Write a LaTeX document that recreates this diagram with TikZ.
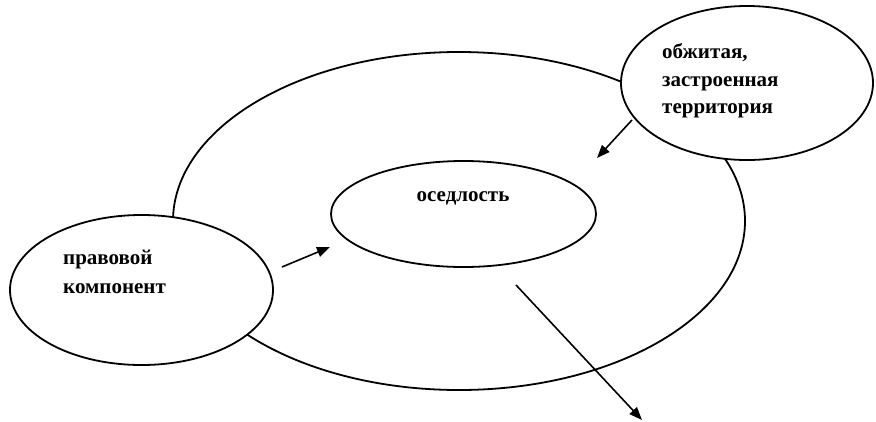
\documentclass[tikz,border=0pt]{standalone}
\usepackage{fontspec}
\setmainfont{Liberation Serif}
\usetikzlibrary{shapes.geometric,arrows.meta}
\tikzset{
  oval/.style={ellipse, draw=black, line width=1.8pt, fill=white, inner sep=0pt},
  lbl/.style={font=\fontsize{21}{29}\selectfont\bfseries, inner sep=0pt, align=left},
  arr/.style={line width=1.6pt, -{Triangle[length=13pt,width=10pt]}}
}
\begin{document}
\begin{tikzpicture}[x=1pt,y=-1pt]
\useasboundingbox (0,0) rectangle (876,421);
\node[oval, minimum width=572pt, minimum height=338pt] (big) at (459,221) {};
\node[oval, minimum width=265pt, minimum height=106pt] (sed) at (463.5,214) {};
\node[oval, minimum width=263pt, minimum height=150pt] (prav) at (141.5,290) {};
\node[oval, minimum width=252pt, minimum height=154pt] (terr) at (747,83) {};
\node[lbl] (tsed) at (463,198) {оседлость};
\node[lbl, anchor=west] (tprav) at (63,272) {правовой\\компонент};
\node[lbl, anchor=west, font=\fontsize{21}{27.5}\selectfont\bfseries] (tterr) at (662,81) {обжитая,\\застроенная\\территория};
\coordinate (a1s) at (282,267);
\coordinate (a1e) at (330,247);
\coordinate (a2s) at (632,120);
\coordinate (a2e) at (597,158);
\coordinate (a3s) at (516,285);
\coordinate (a3e) at (642,420);
\draw[arr] (a1s) -- (a1e);
\draw[arr] (a2s) -- (a2e);
\draw[arr] (a3s) -- (a3e);
\end{tikzpicture}
\end{document}
